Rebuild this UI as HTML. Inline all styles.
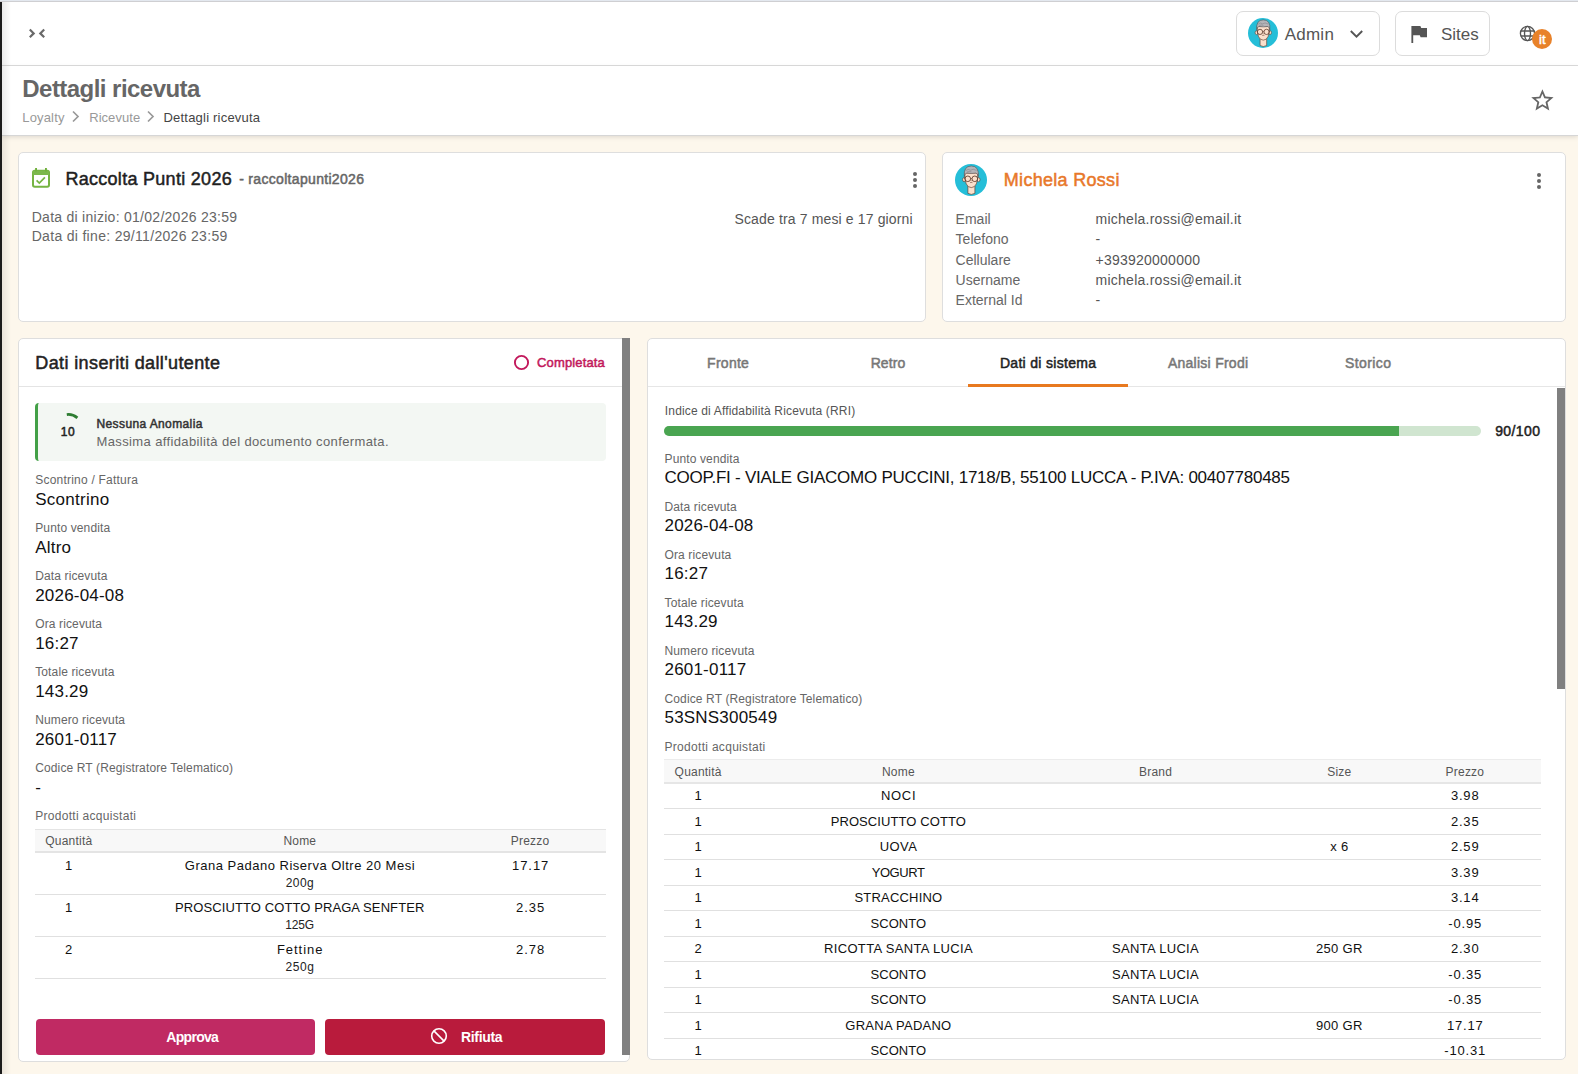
<!DOCTYPE html>
<html><head><meta charset="utf-8"><title>Dettagli ricevuta</title>
<style>
*{box-sizing:border-box;margin:0;padding:0}
html,body{width:1578px;height:1074px;overflow:hidden}
body{font-family:"Liberation Sans",sans-serif;background:#fdf7ec;position:relative;color:#222}
.abs{position:absolute}
.t{position:absolute;line-height:1;white-space:nowrap}
.btn{border:1px solid #dcdcdc;border-radius:7px;background:#fff}
.card{background:#fff;border:1px solid #dedede;border-radius:5px}
</style></head>
<body>
<div class="abs" style="left:0;top:0;width:1578px;height:1px;background:#e3e8ef"></div>
<div class="abs" style="left:0;top:1px;width:1578px;height:1px;background:#cfcfd2"></div>
<div class="abs" style="left:2px;top:2px;width:1576px;height:63px;background:#fff"></div>
<div class="abs" style="left:2px;top:65px;width:1576px;height:1px;background:#dcdcdc"></div>
<div class="abs" style="left:2px;top:66px;width:1576px;height:69px;background:#fff;box-shadow:0 2px 5px rgba(0,0,0,.13)"></div>
<div class="abs" style="left:2px;top:135px;width:1576px;height:1px;background:#d6d6d6"></div>
<svg class="abs" style="left:27px;top:27px" width="20" height="13" viewBox="0 0 20 13"><path d="M2.8 2.5 L6.7 6.4 L2.8 10.3 M17.2 2.5 L13.3 6.4 L17.2 10.3" fill="none" stroke="#6a6a6a" stroke-width="2.2"/></svg>
<div class="abs btn" style="left:1236px;top:11px;width:144px;height:45px"></div>
<div class="abs" style="left:1247.5px;top:18.3px"><svg width="30" height="30" viewBox="0 0 32 32" style="display:block"><defs><clipPath id="avc30"><circle cx="16" cy="16" r="16"/></clipPath></defs><circle cx="16" cy="16" r="16" fill="#25bed8"/>
<g clip-path="url(#avc30)">
<path d="M12.9 21.5 V29.3 Q16.3 31.6 19.9 29.3 V21.5 Z" fill="#fbe0cc" stroke="#5e3a2c" stroke-width=".65"/>
<ellipse cx="9.1" cy="15.6" rx="1.5" ry="2.1" fill="#fbe0cc" stroke="#5e3a2c" stroke-width=".6"/>
<ellipse cx="23.5" cy="15.6" rx="1.5" ry="2.1" fill="#fbe0cc" stroke="#5e3a2c" stroke-width=".6"/>
<path d="M9.7 9 Q9.5 23.5 16.3 23.6 Q23.1 23.5 22.9 9 Z" fill="#fbe0cc" stroke="#5e3a2c" stroke-width=".65"/>
<path d="M9.3 12.4 Q8.4 2 16.3 2 Q24.2 2 23.3 12.4 Q22.9 9.6 20.8 9.1 Q16.3 9.9 11.8 9.1 Q9.7 9.6 9.3 12.4 Z" fill="#b4b4b8" stroke="#5a5050" stroke-width=".6"/>
<path d="M11 6.5 Q13 4.4 15.5 6.2 Q18 4.2 21.5 6.4 M12 8 Q14.5 6.8 16.5 8" fill="none" stroke="#7a7a80" stroke-width=".5"/>
<circle cx="12.8" cy="14.8" r="2.8" fill="none" stroke="#5e3a2c" stroke-width=".85"/>
<circle cx="19.8" cy="14.8" r="2.8" fill="none" stroke="#5e3a2c" stroke-width=".85"/>
<path d="M15.6 14.6 H17 M9.4 14.4 H10 M22.6 14.4 H23.2" stroke="#5e3a2c" stroke-width=".65"/>
<path d="M15.7 17 L16.3 16.3 M15.2 18.6 Q16.3 18.2 17.4 18.6" fill="none" stroke="#6a4030" stroke-width=".7"/>
</g></svg></div>
<svg class="abs" style="left:1349px;top:29px" width="15" height="10" viewBox="0 0 15 10"><path d="M1.8 2 L7.5 7.7 L13.2 2" fill="none" stroke="#555" stroke-width="1.9"/></svg>
<div class="abs btn" style="left:1395px;top:11px;width:95px;height:45px"></div>
<svg class="abs" style="left:1411px;top:26px" width="17" height="17" viewBox="0 0 17 17"><path d="M0.4 0 H9.4 L10.2 2 H16 V11.3 H9.6 L8.8 9.3 H2.2 V17 H0.4 Z" fill="#555"/></svg>
<svg class="abs" style="left:1519px;top:25px" width="17" height="17" viewBox="0 0 24 24"><g fill="none" stroke="#555" stroke-width="1.9"><circle cx="12" cy="12" r="10"/><ellipse cx="12" cy="12" rx="4.2" ry="10"/><path d="M2.5 8.5 H21.5 M2.5 15.5 H21.5"/></g></svg>
<div class="abs" style="left:1532px;top:29px;width:20px;height:20px;border-radius:50%;background:#e8822a"></div>
<svg class="abs" style="left:71px;top:110px" width="9" height="13" viewBox="0 0 9 13"><path d="M2 1.5 L7 6.5 L2 11.5" fill="none" stroke="#999" stroke-width="1.7"/></svg>
<svg class="abs" style="left:146px;top:110px" width="9" height="13" viewBox="0 0 9 13"><path d="M2 1.5 L7 6.5 L2 11.5" fill="none" stroke="#999" stroke-width="1.7"/></svg>
<svg class="abs" style="left:1528.5px;top:86.8px" width="26.8" height="26.8" viewBox="0 0 24 24"><path fill="#666" d="M22 9.24l-7.19-.62L12 2 9.19 8.63 2 9.24l5.46 4.73L5.82 21 12 17.27 18.18 21l-1.63-7.03L22 9.24zM12 15.4l-3.76 2.27 1-4.28-3.32-2.88 4.38-.38L12 6.1l1.71 4.04 4.38.38-3.32 2.88 1 4.28L12 15.4z"/></svg>
<div class="abs" style="left:2px;top:2px;width:9px;height:1072px;background:linear-gradient(to right,rgba(0,0,0,.08),rgba(0,0,0,0));z-index:5"></div>
<div class="abs" style="left:0;top:2px;width:2px;height:1072px;background:#1b1b1b;z-index:6"></div>
<div class="abs card" style="left:18px;top:152px;width:908px;height:170px"></div>
<svg class="abs" style="left:32px;top:168px" width="18" height="20" viewBox="0 0 18 20"><rect x="1" y="2.8" width="16" height="16" rx="1.8" fill="none" stroke="#76b443" stroke-width="2"/><rect x="1" y="2.8" width="16" height="4.2" fill="#7cb84c"/><rect x="3.1" y="0" width="1.9" height="3.5" fill="#70b03c"/><rect x="13" y="0" width="1.9" height="3.5" fill="#70b03c"/><path d="M4.6 12.3 L7.3 15.1 L12.9 9.3" fill="none" stroke="#76b443" stroke-width="1.7"/></svg>
<svg class="abs" style="left:911.9px;top:171.9px" width="6" height="16" viewBox="0 0 6 16"><circle cx="3" cy="2" r="2" fill="#666"/><circle cx="3" cy="8" r="2" fill="#666"/><circle cx="3" cy="14" r="2" fill="#666"/></svg>
<div class="abs card" style="left:942px;top:152px;width:624px;height:170px"></div>
<div class="abs" style="left:955px;top:164px"><svg width="32" height="32" viewBox="0 0 32 32" style="display:block"><defs><clipPath id="avc32"><circle cx="16" cy="16" r="16"/></clipPath></defs><circle cx="16" cy="16" r="16" fill="#25bed8"/>
<g clip-path="url(#avc32)">
<path d="M12.9 21.5 V29.3 Q16.3 31.6 19.9 29.3 V21.5 Z" fill="#fbe0cc" stroke="#5e3a2c" stroke-width=".65"/>
<ellipse cx="9.1" cy="15.6" rx="1.5" ry="2.1" fill="#fbe0cc" stroke="#5e3a2c" stroke-width=".6"/>
<ellipse cx="23.5" cy="15.6" rx="1.5" ry="2.1" fill="#fbe0cc" stroke="#5e3a2c" stroke-width=".6"/>
<path d="M9.7 9 Q9.5 23.5 16.3 23.6 Q23.1 23.5 22.9 9 Z" fill="#fbe0cc" stroke="#5e3a2c" stroke-width=".65"/>
<path d="M9.3 12.4 Q8.4 2 16.3 2 Q24.2 2 23.3 12.4 Q22.9 9.6 20.8 9.1 Q16.3 9.9 11.8 9.1 Q9.7 9.6 9.3 12.4 Z" fill="#b4b4b8" stroke="#5a5050" stroke-width=".6"/>
<path d="M11 6.5 Q13 4.4 15.5 6.2 Q18 4.2 21.5 6.4 M12 8 Q14.5 6.8 16.5 8" fill="none" stroke="#7a7a80" stroke-width=".5"/>
<circle cx="12.8" cy="14.8" r="2.8" fill="none" stroke="#5e3a2c" stroke-width=".85"/>
<circle cx="19.8" cy="14.8" r="2.8" fill="none" stroke="#5e3a2c" stroke-width=".85"/>
<path d="M15.6 14.6 H17 M9.4 14.4 H10 M22.6 14.4 H23.2" stroke="#5e3a2c" stroke-width=".65"/>
<path d="M15.7 17 L16.3 16.3 M15.2 18.6 Q16.3 18.2 17.4 18.6" fill="none" stroke="#6a4030" stroke-width=".7"/>
</g></svg></div>
<svg class="abs" style="left:1536px;top:173px" width="6" height="16" viewBox="0 0 6 16"><circle cx="3" cy="2" r="2" fill="#666"/><circle cx="3" cy="8" r="2" fill="#666"/><circle cx="3" cy="14" r="2" fill="#666"/></svg>
<div class="abs card" style="left:18px;top:338px;width:612px;height:724px"></div>
<svg class="abs" style="left:513px;top:354px" width="17" height="17" viewBox="0 0 17 17"><circle cx="8.5" cy="8.5" r="6.6" fill="none" stroke="#c2185b" stroke-width="1.9"/></svg>
<div class="abs" style="left:19px;top:386px;width:603px;height:1px;background:#e4e4e4"></div>
<div class="abs" style="left:35px;top:403px;width:571px;height:58px;background:#f3f7f3;border-left:3px solid #43a047;border-radius:4px"></div>
<svg class="abs" style="left:60px;top:410px" width="22" height="12" viewBox="0 0 22 12"><path d="M6.8 4.6 Q12.4 3.8 17.4 7.8" fill="none" stroke="#2e7d32" stroke-width="2.8"/></svg>
<div class="abs" style="left:35px;top:829px;width:571px;height:1px;background:#e4e4e4"></div>
<div class="abs" style="left:35px;top:830px;width:571px;height:21px;background:#f8f8f8"></div>
<div class="abs" style="left:35px;top:851px;width:571px;height:2px;background:#e4e4e4"></div>
<div class="abs" style="left:35px;top:894.0px;width:571px;height:1px;background:#e0e0e0"></div>
<div class="abs" style="left:35px;top:936.2px;width:571px;height:1px;background:#e0e0e0"></div>
<div class="abs" style="left:35px;top:978.4px;width:571px;height:1px;background:#e0e0e0"></div>
<div class="abs" style="left:36px;top:1019px;width:279px;height:36px;background:#c02a63;border-radius:4px"></div>
<div class="abs" style="left:325px;top:1019px;width:280px;height:36px;background:#b91b3c;border-radius:4px"></div>
<svg class="abs" style="left:430.3px;top:1026.9px" width="18" height="18" viewBox="0 0 18 18"><circle cx="9" cy="9" r="7.3" fill="none" stroke="#fff" stroke-width="1.6"/><path d="M3.9 3.9 L14.1 14.1" stroke="#fff" stroke-width="1.6"/></svg>
<div class="abs" style="left:622px;top:338px;width:8px;height:717px;background:#808080"></div>
<div class="abs card" style="left:647px;top:338px;width:919px;height:722px;overflow:hidden" id="rp"></div>
<div class="abs" style="left:648px;top:386px;width:917px;height:1px;background:#e6e6e6"></div>
<div class="abs" style="left:968px;top:384px;width:160px;height:3px;background:#e8791f"></div>
<div class="abs" style="left:1557px;top:388px;width:8px;height:301px;background:#808080"></div>
<div class="abs" style="left:664px;top:426px;width:817px;height:10px;background:#d0e5d0;border-radius:5px;overflow:hidden"><div style="width:735px;height:10px;background:#4aa551"></div></div>
<div class="abs" style="left:664px;top:759px;width:877px;height:1px;background:#ececec"></div>
<div class="abs" style="left:664px;top:760px;width:877px;height:22px;background:#f8f8f8"></div>
<div class="abs" style="left:664px;top:782px;width:877px;height:2px;background:#e6e6e6"></div>
<div class="abs" style="left:664px;top:808.30px;width:877px;height:1px;background:#e0e0e0"></div>
<div class="abs" style="left:664px;top:833.78px;width:877px;height:1px;background:#e0e0e0"></div>
<div class="abs" style="left:664px;top:859.26px;width:877px;height:1px;background:#e0e0e0"></div>
<div class="abs" style="left:664px;top:884.74px;width:877px;height:1px;background:#e0e0e0"></div>
<div class="abs" style="left:664px;top:910.22px;width:877px;height:1px;background:#e0e0e0"></div>
<div class="abs" style="left:664px;top:935.70px;width:877px;height:1px;background:#e0e0e0"></div>
<div class="abs" style="left:664px;top:961.18px;width:877px;height:1px;background:#e0e0e0"></div>
<div class="abs" style="left:664px;top:986.66px;width:877px;height:1px;background:#e0e0e0"></div>
<div class="abs" style="left:664px;top:1012.14px;width:877px;height:1px;background:#e0e0e0"></div>
<div class="abs" style="left:664px;top:1037.62px;width:877px;height:1px;background:#e0e0e0"></div>
<div class="t" style="left:1284.70px;top:26px;font-size:17px;color:#555;letter-spacing:0.242px;">Admin</div>
<div class="t" style="left:1441.00px;top:26px;font-size:17px;color:#555;letter-spacing:-0.023px;">Sites</div>
<div class="t" style="left:1142.30px;width:800px;text-align:center;top:33px;font-size:13px;color:#fff;-webkit-text-stroke:0.5px #fff;">it</div>
<div class="t" style="left:22.30px;top:77px;font-size:24px;color:#666;font-weight:700;letter-spacing:-0.542px;">Dettagli ricevuta</div>
<div class="t" style="left:22.30px;top:111px;font-size:13px;color:#999;letter-spacing:0.152px;">Loyalty</div>
<div class="t" style="left:89.20px;top:111px;font-size:13px;color:#999;letter-spacing:0.050px;">Ricevute</div>
<div class="t" style="left:163.50px;top:111px;font-size:13px;color:#444;letter-spacing:0.208px;">Dettagli ricevuta</div>
<div class="t" style="left:65.40px;top:170px;font-size:18px;color:#1f1f1f;-webkit-text-stroke:0.5px #1f1f1f;letter-spacing:0.289px;">Raccolta Punti 2026</div>
<div class="t" style="left:239.20px;top:172px;font-size:14px;color:#666;-webkit-text-stroke:0.5px #666;letter-spacing:0.317px;">- raccoltapunti2026</div>
<div class="t" style="left:31.70px;top:210px;font-size:14px;color:#666;letter-spacing:0.273px;">Data di inizio: 01/02/2026 23:59</div>
<div class="t" style="left:31.70px;top:229px;font-size:14px;color:#666;letter-spacing:0.311px;">Data di fine: 29/11/2026 23:59</div>
<div class="t" style="left:112.74px;width:800px;text-align:right;top:212px;font-size:14px;color:#555;letter-spacing:0.141px;">Scade tra 7 mesi e 17 giorni</div>
<div class="t" style="left:1003.80px;top:171px;font-size:18px;color:#e8782a;-webkit-text-stroke:0.5px #e8782a;letter-spacing:0.297px;">Michela Rossi</div>
<div class="t" style="left:955.60px;top:212px;font-size:14px;color:#666;">Email</div>
<div class="t" style="left:1095.50px;top:212px;font-size:14px;color:#555;letter-spacing:0.259px;">michela.rossi@email.it</div>
<div class="t" style="left:955.60px;top:232px;font-size:14px;color:#666;">Telefono</div>
<div class="t" style="left:1095.50px;top:232px;font-size:14px;color:#555;">-</div>
<div class="t" style="left:955.60px;top:253px;font-size:14px;color:#666;">Cellulare</div>
<div class="t" style="left:1095.50px;top:253px;font-size:14px;color:#555;letter-spacing:0.240px;">+393920000000</div>
<div class="t" style="left:955.60px;top:273px;font-size:14px;color:#666;">Username</div>
<div class="t" style="left:1095.50px;top:273px;font-size:14px;color:#555;letter-spacing:0.259px;">michela.rossi@email.it</div>
<div class="t" style="left:955.60px;top:293px;font-size:14px;color:#666;">External Id</div>
<div class="t" style="left:1095.50px;top:293px;font-size:14px;color:#555;">-</div>
<div class="t" style="left:35.30px;top:354px;font-size:18px;color:#222;-webkit-text-stroke:0.5px #222;letter-spacing:0.383px;">Dati inseriti dall'utente</div>
<div class="t" style="left:537.10px;top:356px;font-size:13px;color:#c2185b;-webkit-text-stroke:0.5px #c2185b;letter-spacing:0.139px;">Completata</div>
<div class="t" style="left:60.80px;top:426px;font-size:12px;color:#222;-webkit-text-stroke:0.5px #222;letter-spacing:0.500px;">10</div>
<div class="t" style="left:96.50px;top:418px;font-size:12px;color:#333;-webkit-text-stroke:0.5px #333;letter-spacing:0.390px;">Nessuna Anomalia</div>
<div class="t" style="left:96.50px;top:435px;font-size:13px;color:#666;letter-spacing:0.376px;">Massima affidabilità del documento confermata.</div>
<div class="t" style="left:35.20px;top:474px;font-size:12px;color:#666;letter-spacing:0.220px;">Scontrino / Fattura</div>
<div class="t" style="left:35.20px;top:491px;font-size:17px;color:#111;letter-spacing:0.267px;">Scontrino</div>
<div class="t" style="left:35.20px;top:522px;font-size:12px;color:#666;letter-spacing:0.130px;">Punto vendita</div>
<div class="t" style="left:35.20px;top:539px;font-size:17px;color:#111;letter-spacing:0.200px;">Altro</div>
<div class="t" style="left:35.20px;top:570px;font-size:12px;color:#666;letter-spacing:0.130px;">Data ricevuta</div>
<div class="t" style="left:35.20px;top:587px;font-size:17px;color:#111;letter-spacing:0.200px;">2026-04-08</div>
<div class="t" style="left:35.20px;top:618px;font-size:12px;color:#666;letter-spacing:0.130px;">Ora ricevuta</div>
<div class="t" style="left:35.20px;top:635px;font-size:17px;color:#111;letter-spacing:0.200px;">16:27</div>
<div class="t" style="left:35.20px;top:666px;font-size:12px;color:#666;letter-spacing:0.130px;">Totale ricevuta</div>
<div class="t" style="left:35.20px;top:683px;font-size:17px;color:#111;letter-spacing:0.200px;">143.29</div>
<div class="t" style="left:35.20px;top:714px;font-size:12px;color:#666;letter-spacing:0.130px;">Numero ricevuta</div>
<div class="t" style="left:35.20px;top:731px;font-size:17px;color:#111;letter-spacing:0.200px;">2601-0117</div>
<div class="t" style="left:35.20px;top:762px;font-size:12px;color:#666;letter-spacing:0.130px;">Codice RT (Registratore Telematico)</div>
<div class="t" style="left:35.20px;top:779px;font-size:17px;color:#111;letter-spacing:0.200px;">-</div>
<div class="t" style="left:35.20px;top:810px;font-size:12px;color:#666;letter-spacing:0.300px;">Prodotti acquistati</div>
<div class="t" style="left:-331.20px;width:800px;text-align:center;top:835px;font-size:12px;color:#555;letter-spacing:0.200px;">Quantità</div>
<div class="t" style="left:-100.20px;width:800px;text-align:center;top:835px;font-size:12px;color:#555;letter-spacing:0.200px;">Nome</div>
<div class="t" style="left:130.10px;width:800px;text-align:center;top:835px;font-size:12px;color:#555;letter-spacing:0.200px;">Prezzo</div>
<div class="t" style="left:-331.30px;width:800px;text-align:center;top:859px;font-size:13px;color:#111;">1</div>
<div class="t" style="left:-100.05px;width:800px;text-align:center;top:859px;font-size:13px;color:#111;letter-spacing:0.504px;">Grana Padano Riserva Oltre 20 Mesi</div>
<div class="t" style="left:-100.10px;width:800px;text-align:center;top:877px;font-size:12px;color:#222;letter-spacing:0.393px;">200g</div>
<div class="t" style="left:130.67px;width:800px;text-align:center;top:859px;font-size:13px;color:#111;letter-spacing:0.950px;">17.17</div>
<div class="t" style="left:-331.30px;width:800px;text-align:center;top:901px;font-size:13px;color:#111;">1</div>
<div class="t" style="left:-100.25px;width:800px;text-align:center;top:901px;font-size:13px;color:#111;letter-spacing:0.094px;">PROSCIUTTO COTTO PRAGA SENFTER</div>
<div class="t" style="left:-100.40px;width:800px;text-align:center;top:919px;font-size:12px;color:#222;letter-spacing:-0.207px;">125G</div>
<div class="t" style="left:130.69px;width:800px;text-align:center;top:901px;font-size:13px;color:#111;letter-spacing:0.976px;">2.35</div>
<div class="t" style="left:-331.30px;width:800px;text-align:center;top:943px;font-size:13px;color:#111;">2</div>
<div class="t" style="left:-99.83px;width:800px;text-align:center;top:943px;font-size:13px;color:#111;letter-spacing:0.948px;">Fettine</div>
<div class="t" style="left:-100.04px;width:800px;text-align:center;top:961px;font-size:12px;color:#222;letter-spacing:0.526px;">250g</div>
<div class="t" style="left:130.69px;width:800px;text-align:center;top:943px;font-size:13px;color:#111;letter-spacing:0.976px;">2.78</div>
<div class="t" style="left:-207.76px;width:800px;text-align:center;top:1030px;font-size:14px;color:#fff;font-weight:700;letter-spacing:-0.717px;">Approva</div>
<div class="t" style="left:461.00px;top:1030px;font-size:14px;color:#fff;font-weight:700;letter-spacing:-0.328px;">Rifiuta</div>
<div class="t" style="left:328.13px;width:800px;text-align:center;top:356px;font-size:14px;color:#777;-webkit-text-stroke:0.5px #777;letter-spacing:0.265px;">Fronte</div>
<div class="t" style="left:488.06px;width:800px;text-align:center;top:356px;font-size:14px;color:#777;-webkit-text-stroke:0.5px #777;letter-spacing:0.113px;">Retro</div>
<div class="t" style="left:648.16px;width:800px;text-align:center;top:356px;font-size:14px;color:#222;-webkit-text-stroke:0.5px #222;letter-spacing:0.313px;">Dati di sistema</div>
<div class="t" style="left:808.13px;width:800px;text-align:center;top:356px;font-size:14px;color:#777;-webkit-text-stroke:0.5px #777;letter-spacing:0.265px;">Analisi Frodi</div>
<div class="t" style="left:968.19px;width:800px;text-align:center;top:356px;font-size:14px;color:#777;-webkit-text-stroke:0.5px #777;letter-spacing:0.386px;">Storico</div>
<div class="t" style="left:664.80px;top:405px;font-size:12px;color:#555;letter-spacing:0.161px;">Indice di Affidabilità Ricevuta (RRI)</div>
<div class="t" style="left:740.39px;width:800px;text-align:right;top:424px;font-size:14px;color:#222;-webkit-text-stroke:0.5px #222;letter-spacing:0.393px;">90/100</div>
<div class="t" style="left:664.50px;top:453px;font-size:12px;color:#666;letter-spacing:0.130px;">Punto vendita</div>
<div class="t" style="left:664.50px;top:469px;font-size:17px;color:#111;letter-spacing:-0.236px;">COOP.FI - VIALE GIACOMO PUCCINI, 1718/B, 55100 LUCCA - P.IVA: 00407780485</div>
<div class="t" style="left:664.50px;top:501px;font-size:12px;color:#666;letter-spacing:0.130px;">Data ricevuta</div>
<div class="t" style="left:664.50px;top:517px;font-size:17px;color:#111;letter-spacing:0.200px;">2026-04-08</div>
<div class="t" style="left:664.50px;top:549px;font-size:12px;color:#666;letter-spacing:0.130px;">Ora ricevuta</div>
<div class="t" style="left:664.50px;top:565px;font-size:17px;color:#111;letter-spacing:0.200px;">16:27</div>
<div class="t" style="left:664.50px;top:597px;font-size:12px;color:#666;letter-spacing:0.130px;">Totale ricevuta</div>
<div class="t" style="left:664.50px;top:613px;font-size:17px;color:#111;letter-spacing:0.200px;">143.29</div>
<div class="t" style="left:664.50px;top:645px;font-size:12px;color:#666;letter-spacing:0.130px;">Numero ricevuta</div>
<div class="t" style="left:664.50px;top:661px;font-size:17px;color:#111;letter-spacing:0.200px;">2601-0117</div>
<div class="t" style="left:664.50px;top:693px;font-size:12px;color:#666;letter-spacing:0.130px;">Codice RT (Registratore Telematico)</div>
<div class="t" style="left:664.50px;top:709px;font-size:17px;color:#111;letter-spacing:0.200px;">53SNS300549</div>
<div class="t" style="left:664.50px;top:741px;font-size:12px;color:#666;letter-spacing:0.300px;">Prodotti acquistati</div>
<div class="t" style="left:298.10px;width:800px;text-align:center;top:766px;font-size:12px;color:#555;letter-spacing:0.200px;">Quantità</div>
<div class="t" style="left:498.40px;width:800px;text-align:center;top:766px;font-size:12px;color:#555;letter-spacing:0.200px;">Nome</div>
<div class="t" style="left:755.50px;width:800px;text-align:center;top:766px;font-size:12px;color:#555;letter-spacing:0.200px;">Brand</div>
<div class="t" style="left:939.30px;width:800px;text-align:center;top:766px;font-size:12px;color:#555;letter-spacing:0.200px;">Size</div>
<div class="t" style="left:1064.90px;width:800px;text-align:center;top:766px;font-size:12px;color:#555;letter-spacing:0.200px;">Prezzo</div>
<div class="t" style="left:296.80px;width:800px;text-align:center;top:789px;font-size:13px;color:#111;letter-spacing:-2.400px;">1</div>
<div class="t" style="left:498.62px;width:800px;text-align:center;top:789px;font-size:13px;color:#111;letter-spacing:0.637px;">NOCI</div>
<div class="t" style="left:1065.20px;width:800px;text-align:center;top:789px;font-size:13px;color:#111;letter-spacing:0.800px;">3.98</div>
<div class="t" style="left:296.80px;width:800px;text-align:center;top:815px;font-size:13px;color:#111;letter-spacing:-2.400px;">1</div>
<div class="t" style="left:498.35px;width:800px;text-align:center;top:815px;font-size:13px;color:#111;letter-spacing:0.097px;">PROSCIUTTO COTTO</div>
<div class="t" style="left:1065.20px;width:800px;text-align:center;top:815px;font-size:13px;color:#111;letter-spacing:0.800px;">2.35</div>
<div class="t" style="left:296.80px;width:800px;text-align:center;top:840px;font-size:13px;color:#111;letter-spacing:-2.400px;">1</div>
<div class="t" style="left:498.50px;width:800px;text-align:center;top:840px;font-size:13px;color:#111;letter-spacing:0.398px;">UOVA</div>
<div class="t" style="left:939.35px;width:800px;text-align:center;top:840px;font-size:13px;color:#111;letter-spacing:0.300px;">x 6</div>
<div class="t" style="left:1065.20px;width:800px;text-align:center;top:840px;font-size:13px;color:#111;letter-spacing:0.800px;">2.59</div>
<div class="t" style="left:296.80px;width:800px;text-align:center;top:866px;font-size:13px;color:#111;letter-spacing:-2.400px;">1</div>
<div class="t" style="left:498.09px;width:800px;text-align:center;top:866px;font-size:13px;color:#111;letter-spacing:-0.427px;">YOGURT</div>
<div class="t" style="left:1065.20px;width:800px;text-align:center;top:866px;font-size:13px;color:#111;letter-spacing:0.800px;">3.39</div>
<div class="t" style="left:296.80px;width:800px;text-align:center;top:891px;font-size:13px;color:#111;letter-spacing:-2.400px;">1</div>
<div class="t" style="left:498.40px;width:800px;text-align:center;top:891px;font-size:13px;color:#111;letter-spacing:0.196px;">STRACCHINO</div>
<div class="t" style="left:1065.20px;width:800px;text-align:center;top:891px;font-size:13px;color:#111;letter-spacing:0.800px;">3.14</div>
<div class="t" style="left:296.80px;width:800px;text-align:center;top:917px;font-size:13px;color:#111;letter-spacing:-2.400px;">1</div>
<div class="t" style="left:498.30px;width:800px;text-align:center;top:917px;font-size:13px;color:#111;letter-spacing:0.007px;">SCONTO</div>
<div class="t" style="left:1065.20px;width:800px;text-align:center;top:917px;font-size:13px;color:#111;letter-spacing:0.800px;">-0.95</div>
<div class="t" style="left:298.00px;width:800px;text-align:center;top:942px;font-size:13px;color:#111;">2</div>
<div class="t" style="left:498.47px;width:800px;text-align:center;top:942px;font-size:13px;color:#111;letter-spacing:0.333px;">RICOTTA SANTA LUCIA</div>
<div class="t" style="left:755.55px;width:800px;text-align:center;top:942px;font-size:13px;color:#111;letter-spacing:0.300px;">SANTA LUCIA</div>
<div class="t" style="left:939.35px;width:800px;text-align:center;top:942px;font-size:13px;color:#111;letter-spacing:0.300px;">250 GR</div>
<div class="t" style="left:1065.20px;width:800px;text-align:center;top:942px;font-size:13px;color:#111;letter-spacing:0.800px;">2.30</div>
<div class="t" style="left:296.80px;width:800px;text-align:center;top:968px;font-size:13px;color:#111;letter-spacing:-2.400px;">1</div>
<div class="t" style="left:498.30px;width:800px;text-align:center;top:968px;font-size:13px;color:#111;letter-spacing:0.007px;">SCONTO</div>
<div class="t" style="left:755.55px;width:800px;text-align:center;top:968px;font-size:13px;color:#111;letter-spacing:0.300px;">SANTA LUCIA</div>
<div class="t" style="left:1065.20px;width:800px;text-align:center;top:968px;font-size:13px;color:#111;letter-spacing:0.800px;">-0.35</div>
<div class="t" style="left:296.80px;width:800px;text-align:center;top:993px;font-size:13px;color:#111;letter-spacing:-2.400px;">1</div>
<div class="t" style="left:498.30px;width:800px;text-align:center;top:993px;font-size:13px;color:#111;letter-spacing:0.007px;">SCONTO</div>
<div class="t" style="left:755.55px;width:800px;text-align:center;top:993px;font-size:13px;color:#111;letter-spacing:0.300px;">SANTA LUCIA</div>
<div class="t" style="left:1065.20px;width:800px;text-align:center;top:993px;font-size:13px;color:#111;letter-spacing:0.800px;">-0.35</div>
<div class="t" style="left:296.80px;width:800px;text-align:center;top:1019px;font-size:13px;color:#111;letter-spacing:-2.400px;">1</div>
<div class="t" style="left:498.43px;width:800px;text-align:center;top:1019px;font-size:13px;color:#111;letter-spacing:0.258px;">GRANA PADANO</div>
<div class="t" style="left:939.35px;width:800px;text-align:center;top:1019px;font-size:13px;color:#111;letter-spacing:0.300px;">900 GR</div>
<div class="t" style="left:1065.20px;width:800px;text-align:center;top:1019px;font-size:13px;color:#111;letter-spacing:0.800px;">17.17</div>
<div class="t" style="left:296.80px;width:800px;text-align:center;top:1044px;font-size:13px;color:#111;letter-spacing:-2.400px;">1</div>
<div class="t" style="left:498.30px;width:800px;text-align:center;top:1044px;font-size:13px;color:#111;letter-spacing:0.007px;">SCONTO</div>
<div class="t" style="left:1065.20px;width:800px;text-align:center;top:1044px;font-size:13px;color:#111;letter-spacing:0.800px;">-10.31</div>
</body></html>
